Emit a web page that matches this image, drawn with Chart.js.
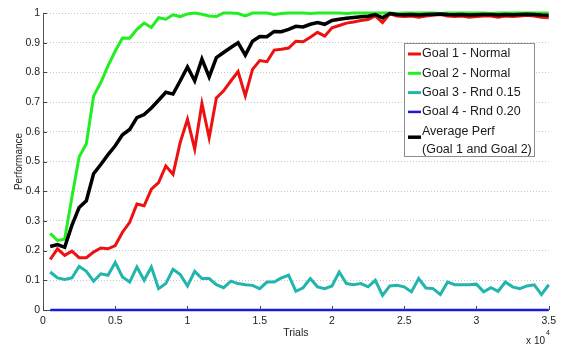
<!DOCTYPE html>
<html>
<head>
<meta charset="utf-8">
<script src="https://cdn.jsdelivr.net/npm/chart.js@4/dist/chart.umd.min.js"></script>
<style>
  body { margin: 0; background: #fff; }
  canvas { display: block; }
</style>
</head>
<body>
<canvas id="perfChart" width="561" height="347"></canvas>
<script>
// Trials at which performance was sampled
const trials = [
    500, 1000, 1500, 2000, 2500, 3000, 3500, 4000, 4500, 5000,
    5500, 6000, 6500, 7000, 7500, 8000, 8500, 9000, 9500, 10000,
    10500, 11000, 11500, 12000, 12500, 13000, 13500, 14000, 14500, 15000,
    15500, 16000, 16500, 17000, 17500, 18000, 18500, 19000, 19500, 20000,
    20500, 21000, 21500, 22000, 22500, 23000, 23500, 24000, 24500, 25000,
    25500, 26000, 26500, 27000, 27500, 28000, 28500, 29000, 29500, 30000,
    30500, 31000, 31500, 32000, 32500, 33000, 33500, 34000, 34500, 35000
];

const goal1 = [
    0.17, 0.206, 0.184, 0.198, 0.176, 0.176, 0.195, 0.209, 0.206, 0.217,
    0.262, 0.295, 0.357, 0.351, 0.407, 0.429, 0.485, 0.457, 0.565, 0.642,
    0.542, 0.695, 0.58, 0.714, 0.738, 0.771, 0.803, 0.721, 0.81, 0.84,
    0.836, 0.875, 0.878, 0.882, 0.905, 0.903, 0.918, 0.935, 0.922, 0.95,
    0.958, 0.966, 0.97, 0.975, 0.978, 0.99, 0.968, 0.997, 0.99, 0.988,
    0.99, 0.986, 0.99, 0.992, 0.995, 0.99, 0.988, 0.99, 0.986, 0.988,
    0.99, 0.99, 0.986, 0.99, 0.988, 0.99, 0.992, 0.99, 0.986, 0.984
];

const goal2 = [
    0.258, 0.234, 0.238, 0.38, 0.515, 0.56, 0.72, 0.766, 0.822, 0.872,
    0.916, 0.915, 0.945, 0.966, 0.951, 0.984, 0.979, 0.994, 0.988, 0.997,
    1.0, 0.996, 0.99, 0.988, 1.0, 1.0, 0.998, 0.99, 1.0, 1.0,
    1.0, 0.995, 0.998, 1.0, 1.0, 1.0, 0.998, 1.0, 1.0, 1.0,
    1.0, 0.998, 1.0, 1.0, 1.0, 1.0, 1.0, 1.0, 0.998, 1.0,
    1.0, 1.0, 1.0, 1.0, 0.998, 1.0, 1.0, 1.0, 1.0, 1.0,
    1.0, 0.998, 1.0, 1.0, 1.0, 1.0, 1.0, 1.0, 1.0, 1.0
];

const goal3 = [
    0.128, 0.108, 0.103, 0.108, 0.147, 0.13, 0.097, 0.122, 0.117, 0.16,
    0.111, 0.094, 0.145, 0.10, 0.145, 0.072, 0.089, 0.137, 0.119, 0.081,
    0.13, 0.106, 0.106, 0.085, 0.075, 0.097, 0.089, 0.085, 0.083, 0.072,
    0.094, 0.094, 0.108, 0.117, 0.063, 0.075, 0.106, 0.078, 0.072, 0.081,
    0.128, 0.089, 0.085, 0.089, 0.078, 0.10, 0.049, 0.081, 0.083, 0.078,
    0.061, 0.106, 0.074, 0.072, 0.052, 0.094, 0.085, 0.085, 0.085, 0.087,
    0.061, 0.075, 0.063, 0.094, 0.078, 0.072, 0.081, 0.085, 0.052, 0.085
];

const goal4 = [
    0, 0, 0, 0, 0, 0, 0, 0, 0, 0,
    0, 0, 0, 0, 0, 0, 0, 0, 0, 0,
    0, 0, 0, 0, 0, 0, 0, 0, 0, 0,
    0, 0, 0, 0, 0, 0, 0, 0, 0, 0,
    0, 0, 0, 0, 0, 0, 0, 0, 0, 0,
    0, 0, 0, 0, 0, 0, 0, 0, 0, 0,
    0, 0, 0, 0, 0, 0, 0, 0, 0, 0
];

const average = [
    0.214, 0.22, 0.211, 0.285, 0.345, 0.368, 0.459, 0.49, 0.523, 0.553,
    0.59, 0.608, 0.648, 0.658, 0.68, 0.706, 0.733, 0.727, 0.772, 0.818,
    0.772, 0.845, 0.785, 0.85, 0.867, 0.884, 0.9, 0.858, 0.905, 0.921,
    0.92, 0.938, 0.937, 0.945, 0.955, 0.953, 0.962, 0.968, 0.962, 0.975,
    0.979, 0.982, 0.985, 0.987, 0.989, 0.995, 0.984, 0.998, 0.995, 0.994,
    0.995, 0.993, 0.995, 0.996, 0.997, 0.995, 0.994, 0.995, 0.993, 0.994,
    0.995, 0.995, 0.993, 0.995, 0.994, 0.995, 0.996, 0.995, 0.993, 0.992
];

const seriesNames = [
    'Goal 1 - Normal',
    'Goal 2 - Normal',
    'Goal 3 - Rnd 0.15',
    'Goal 4 - Rnd 0.20',
    ['Average Perf', '(Goal 1 and Goal 2)']
];
const seriesColors = ['#ee1111', '#22ee22', '#22b5ad', '#1a1adf', '#000000'];
const seriesWidths = [3, 3, 3, 2.5, 3.5];
const seriesValues = [goal1, goal2, goal3, goal4, average];
// later series are drawn on top (lower order = on top)
const seriesOrder = [4, 3, 2, 1, 0];

const FONT = '"Liberation Sans", Arial, sans-serif';

// matlab style: legend box inside the axes, inward ticks, x 10^4 exponent
const matlabExtras = {
    id: 'matlabExtras',
    afterDraw(chart) {
        const ctx = chart.ctx;
        const xs = chart.scales.x;
        const ys = chart.scales.y;
        const area = chart.chartArea;

        ctx.save();
        // inward tick marks
        ctx.strokeStyle = '#444';
        ctx.lineWidth = 1;
        ctx.beginPath();
        xs.ticks.forEach(t => {
            const px = Math.round(xs.getPixelForValue(t.value)) + 0.5;
            ctx.moveTo(px, area.bottom);
            ctx.lineTo(px, area.bottom - 4);
        });
        ys.ticks.forEach(t => {
            const py = Math.round(ys.getPixelForValue(t.value)) + 0.5;
            ctx.moveTo(area.left, py);
            ctx.lineTo(area.left + 4, py);
        });
        ctx.stroke();

        // legend
        const bx = 404.5, by = 43.5, bw = 130, bh = 113;
        ctx.fillStyle = '#fff';
        ctx.fillRect(bx, by, bw, bh);
        ctx.strokeStyle = '#8c8c8c';
        ctx.strokeRect(bx, by, bw, bh);

        ctx.font = '12.5px ' + FONT;
        ctx.textBaseline = 'middle';
        ctx.textAlign = 'left';
        let rowY = 54;
        seriesNames.forEach((name, i) => {
            const lines = [].concat(name);
            const sampleY = lines.length > 1 ? rowY + 6 : rowY;
            ctx.strokeStyle = seriesColors[i];
            ctx.lineWidth = seriesWidths[i];
            ctx.beginPath();
            ctx.moveTo(408, sampleY);
            ctx.lineTo(421, sampleY);
            ctx.stroke();
            ctx.fillStyle = '#1a1a1a';
            lines.forEach((ln, j) => ctx.fillText(ln, 422, rowY + j * 18));
            rowY += 19.3;
        });

        // exponent under the x axis
        ctx.fillStyle = '#222';
        ctx.font = '10px ' + FONT;
        ctx.textAlign = 'right';
        ctx.textBaseline = 'alphabetic';
        ctx.fillText('x 10', 545, 344);
        ctx.font = '7px ' + FONT;
        ctx.textAlign = 'left';
        ctx.fillText('4', 546, 335);
        ctx.restore();
    }
};

const ctx = document.getElementById('perfChart').getContext('2d');
new Chart(ctx, {
    type: 'line',
    data: {
        datasets: seriesValues.map((vals, i) => ({
            label: [].concat(seriesNames[i]).join(' '),
            data: trials.map((t, k) => ({ x: t, y: vals[k] })),
            borderColor: seriesColors[i],
            borderWidth: seriesWidths[i],
            pointRadius: 0,
            tension: 0,
            fill: false,
            clip: false,
            order: seriesOrder[i]
        }))
    },
    options: {
        responsive: false,
        animation: false,
        devicePixelRatio: 1,
        layout: { padding: { top: 13, right: 12, left: 0, bottom: 0 } },
        plugins: {
            legend: { display: false },
            tooltip: { enabled: false }
        },
        scales: {
            x: {
                type: 'linear',
                min: 0,
                max: 35000,
                afterFit: scale => { scale.height = 37; },
                grid: { display: false, drawTicks: false },
                border: { display: true, color: '#555', width: 1 },
                ticks: {
                    stepSize: 5000,
                    padding: 5,
                    color: '#222',
                    font: { family: FONT, size: 10.5 },
                    maxRotation: 0,
                    callback: v => String(v / 10000)
                },
                title: {
                    display: true,
                    text: 'Trials',
                    color: '#222',
                    font: { family: FONT, size: 10.5 },
                    padding: { top: 0, bottom: 8 }
                }
            },
            y: {
                min: 0,
                max: 1,
                afterFit: scale => { scale.width = 43; },
                grid: { color: '#c8c8c8', lineWidth: 1, drawTicks: false },
                border: { display: true, color: '#555', width: 1, dash: [1, 2] },
                ticks: {
                    stepSize: 0.1,
                    padding: 3,
                    color: '#222',
                    font: { family: FONT, size: 10.5 },
                    callback: v => String(Number(v.toFixed(1)))
                },
                title: {
                    display: true,
                    text: 'Performance',
                    color: '#222',
                    font: { family: FONT, size: 10 },
                    padding: { top: 13, bottom: 0 }
                }
            }
        }
    },
    plugins: [matlabExtras]
});
</script>
</body>
</html>
